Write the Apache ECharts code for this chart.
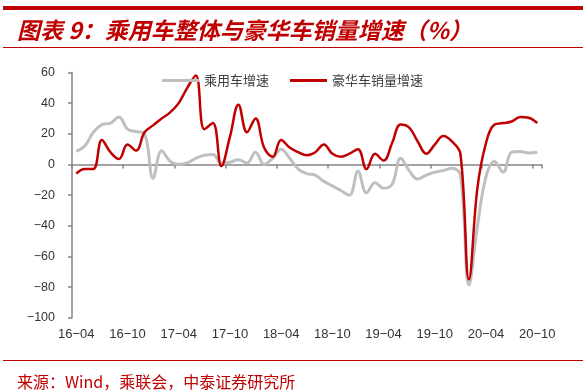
<!DOCTYPE html>
<html>
<head>
<meta charset="utf-8">
<script src="https://cdn.jsdelivr.net/npm/echarts@6/dist/echarts.min.js"></script>
<style>
html,body{margin:0;padding:0;background:#fff}
#chart{width:585px;height:392px}
</style>
</head>
<body>
<div id="chart"></div>
<script>
var months = ['16-04','16-05','16-06','16-07','16-08','16-09','16-10','16-11','16-12',
    '17-01','17-02','17-03','17-04','17-05','17-06','17-07','17-08','17-09','17-10','17-11','17-12',
    '18-01','18-02','18-03','18-04','18-05','18-06','18-07','18-08','18-09','18-10','18-11','18-12',
    '19-01','19-02','19-03','19-04','19-05','19-06','19-07','19-08','19-09','19-10','19-11','19-12',
    '20-01','20-02','20-03','20-04','20-05','20-06','20-07','20-08','20-09','20-10'];

// 乘用车增速
var carGrowth = [8.5,12,21,26,27,31,23,21.5,20,-9,9,2,0,1,4,6,6.5,1,1.5,3,1,8,0,4,10,4,-3,-6,-7,-11,
    -14,-17,-20,-4.5,-18.5,-12,-15.5,-13,4,-4,-9.5,-7,-5,-4,-2.5,-7,-78.5,-40,-8,2,-5,8,8.5,7.5,8];

// 豪华车销量增速
var luxuryGrowth = [-6,-3,-3,16,8,3.5,13,9,21,25.5,30,34,40,50,58,23,27,-1,18,39,21,30,11,5,16,11,8,6,8,13,
    7,5,7,10,-3,7,2.5,14,26,24,15,7,13,18.5,15,7,-75,-15,14,26,27,28,31,30.5,27];

var yMin = -100, yMax = 60, yStep = 20;

var red = '#c00000';
var axisGray = '#858585';

var myChart = echarts.init(document.getElementById('chart'));

function dash(v) {
    return String(v).replace(/-/g, '\u2212');
}

option = {
    animation: false,
    title: [{
        text: '图表 9：乘用车整体与豪华车销量增速（%）',
        left: 17,
        top: 19,
        padding: 0,
        textStyle: {
            color: red,
            fontSize: 23,
            fontWeight: 'bold',
            fontStyle: 'italic',
            fontFamily: 'Noto Sans CJK SC'
        }
    }, {
        text: '来源：Wind，乘联会，中泰证券研究所',
        left: 17,
        top: 374,
        padding: 0,
        textStyle: {
            color: red,
            fontSize: 16,
            fontWeight: 'normal',
            fontFamily: 'Noto Sans CJK SC'
        }
    }],
    graphic: [
        {type: 'rect', shape: {x: 3, y: 6, width: 580, height: 4}, style: {fill: red}},
        {type: 'rect', shape: {x: 3, y: 47, width: 580, height: 1}, style: {fill: red}},
        {type: 'rect', shape: {x: 3, y: 360, width: 580, height: 1}, style: {fill: red}}
    ],
    legend: {
        data: ['乘用车增速', '豪华车销量增速'],
        left: 157,
        top: 69,
        icon: 'rect',
        itemWidth: 37,
        itemHeight: 3,
        itemGap: 21,
        textStyle: {
            color: '#404040',
            fontSize: 13,
            fontFamily: 'Noto Sans CJK SC'
        }
    },
    grid: {
        left: 72,
        right: 43.5,
        top: 72.5,
        bottom: 74.3,
        containLabel: false
    },
    xAxis: [{
        type: 'category',
        data: months,
        boundaryGap: true,
        axisLine: {show: false, onZero: false},
        axisTick: {show: false},
        axisLabel: {
            interval: 5,
            margin: 10,
            color: '#333',
            fontSize: 13,
            fontFamily: 'Liberation Sans',
            formatter: dash
        },
        splitLine: {show: false}
    }, {
        type: 'category',
        data: months,
        position: 'bottom',
        boundaryGap: true,
        axisLine: {
            show: true,
            onZero: true,
            onZeroAxisIndex: 0,
            lineStyle: {color: axisGray, width: 1.5}
        },
        axisTick: {
            show: true,
            interval: 5,
            length: 4,
            lineStyle: {color: axisGray, width: 1.5}
        },
        axisLabel: {show: false},
        splitLine: {show: false}
    }],
    yAxis: {
        type: 'value',
        min: yMin,
        max: yMax,
        interval: yStep,
        axisLine: {show: true, lineStyle: {color: axisGray, width: 1.5}},
        axisTick: {show: true, length: 4, lineStyle: {color: axisGray, width: 1.5}},
        axisLabel: {
            margin: 17,
            color: '#333',
            fontSize: 12.5,
            fontFamily: 'Liberation Sans',
            formatter: dash
        },
        splitLine: {show: false}
    },
    series: [{
        name: '乘用车增速',
        type: 'line',
        data: carGrowth,
        smooth: 0.4,
        symbol: 'none',
        lineStyle: {color: '#bfbfbf', width: 3},
        itemStyle: {color: '#bfbfbf'}
    }, {
        name: '豪华车销量增速',
        type: 'line',
        data: luxuryGrowth,
        smooth: 0.4,
        symbol: 'none',
        lineStyle: {color: red, width: 2.5},
        itemStyle: {color: red}
    }]
};

myChart.setOption(option, true);
</script>
</body>
</html>
